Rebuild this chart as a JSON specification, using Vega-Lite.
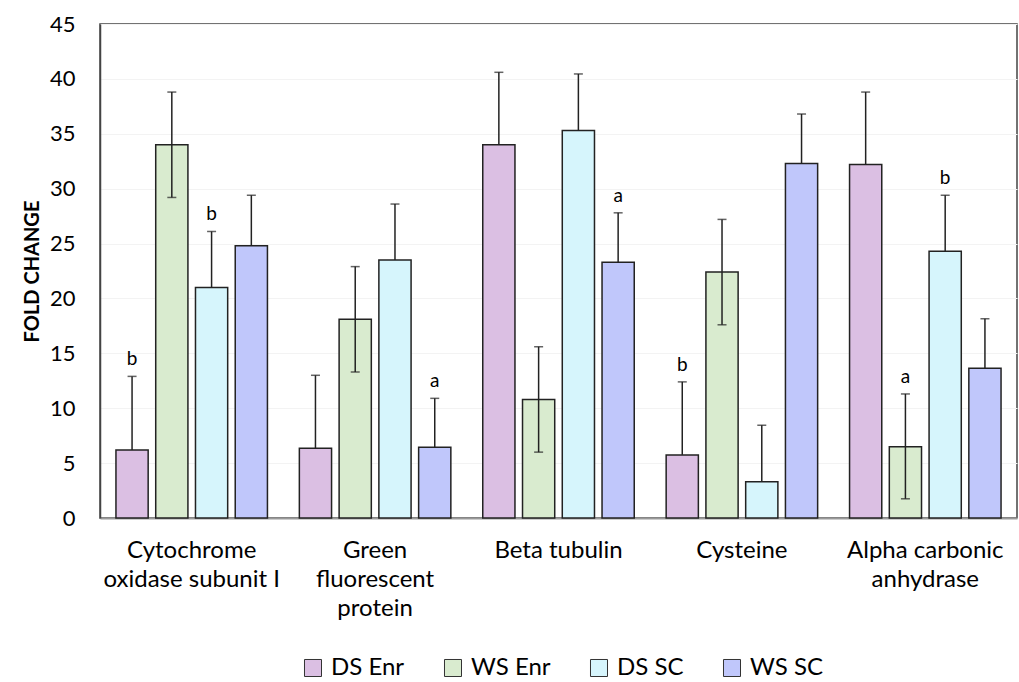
{
  "$schema": "https://vega.github.io/schema/vega-lite/v6.json",
  "width": 917,
  "height": 494,
  "autosize": {"type": "none"},
  "padding": {"left": 100, "top": 24, "right": 2, "bottom": 164},
  "config": {
    "font": "Lato",
    "view": {"stroke": "#444", "strokeWidth": 1.5}
  },
  "data": {
    "values": [
      {"gene": "Cytochrome oxidase subunit I", "group": "DS Enr", "value": 6.2, "hi": 12.9, "lo": null, "letter": "b"},
      {"gene": "Cytochrome oxidase subunit I", "group": "WS Enr", "value": 34.0, "hi": 38.8, "lo": 29.2, "letter": null},
      {"gene": "Cytochrome oxidase subunit I", "group": "DS SC", "value": 21.0, "hi": 26.1, "lo": null, "letter": "b"},
      {"gene": "Cytochrome oxidase subunit I", "group": "WS SC", "value": 24.8, "hi": 29.4, "lo": null, "letter": null},
      {"gene": "Green fluorescent protein", "group": "DS Enr", "value": 6.35, "hi": 13.0, "lo": null, "letter": null},
      {"gene": "Green fluorescent protein", "group": "WS Enr", "value": 18.1, "hi": 22.9, "lo": 13.3, "letter": null},
      {"gene": "Green fluorescent protein", "group": "DS SC", "value": 23.5, "hi": 28.6, "lo": null, "letter": null},
      {"gene": "Green fluorescent protein", "group": "WS SC", "value": 6.45, "hi": 10.9, "lo": null, "letter": "a"},
      {"gene": "Beta tubulin", "group": "DS Enr", "value": 34.0, "hi": 40.6, "lo": null, "letter": null},
      {"gene": "Beta tubulin", "group": "WS Enr", "value": 10.8, "hi": 15.6, "lo": 6.0, "letter": null},
      {"gene": "Beta tubulin", "group": "DS SC", "value": 35.3, "hi": 40.45, "lo": null, "letter": null},
      {"gene": "Beta tubulin", "group": "WS SC", "value": 23.3, "hi": 27.8, "lo": null, "letter": "a"},
      {"gene": "Cysteine", "group": "DS Enr", "value": 5.75, "hi": 12.4, "lo": null, "letter": "b"},
      {"gene": "Cysteine", "group": "WS Enr", "value": 22.4, "hi": 27.2, "lo": 17.6, "letter": null},
      {"gene": "Cysteine", "group": "DS SC", "value": 3.3, "hi": 8.45, "lo": null, "letter": null},
      {"gene": "Cysteine", "group": "WS SC", "value": 32.3, "hi": 36.8, "lo": null, "letter": null},
      {"gene": "Alpha carbonic anhydrase", "group": "DS Enr", "value": 32.2, "hi": 38.8, "lo": null, "letter": null},
      {"gene": "Alpha carbonic anhydrase", "group": "WS Enr", "value": 6.5, "hi": 11.3, "lo": 1.75, "letter": "a"},
      {"gene": "Alpha carbonic anhydrase", "group": "DS SC", "value": 24.3, "hi": 29.4, "lo": null, "letter": "b"},
      {"gene": "Alpha carbonic anhydrase", "group": "WS SC", "value": 13.65, "hi": 18.15, "lo": null, "letter": null}
    ]
  },
  "encoding": {
    "x": {
      "field": "gene",
      "type": "nominal",
      "sort": ["Cytochrome oxidase subunit I", "Green fluorescent protein", "Beta tubulin", "Cysteine", "Alpha carbonic anhydrase"],
      "scale": {"paddingInner": 0.174, "paddingOuter": 0.087},
      "axis": {
        "title": null,
        "labelAngle": 0,
        "labelFontSize": 24,
        "labelColor": "#000",
        "labelPadding": 20,
        "labelLineHeight": 29,
        "labelBaseline": "top",
        "labelLimit": 400,
        "ticks": false,
        "domainColor": "#999",
        "domainWidth": 2,
        "labelExpr": "datum.value == 'Cytochrome oxidase subunit I' ? ['Cytochrome', 'oxidase subunit I'] : datum.value == 'Green fluorescent protein' ? ['Green', 'fluorescent', 'protein'] : datum.value == 'Alpha carbonic anhydrase' ? ['Alpha carbonic', 'anhydrase'] : datum.value"
      }
    },
    "xOffset": {
      "field": "group",
      "type": "nominal",
      "sort": ["DS Enr", "WS Enr", "DS SC", "WS SC"],
      "scale": {"paddingInner": 0.19}
    }
  },
  "layer": [
    {
      "mark": {"type": "bar", "fill": "#000", "opacity": 0.15, "xOffset": 3},
      "encoding": {
        "y": {
          "field": "value",
          "type": "quantitative",
          "title": "FOLD CHANGE",
          "scale": {"domain": [0, 45]},
          "axis": {
            "titleFontSize": 20,
            "titleFontWeight": "bold",
            "titleColor": "#000",
            "titlePadding": 7,
            "values": [0, 5, 10, 15, 20, 25, 30, 35, 40, 45],
            "labelFontSize": 22,
            "labelColor": "#000",
            "labelPadding": 25,
            "ticks": false,
            "domainColor": "#444",
            "domainWidth": 1.5,
            "grid": true,
            "gridColor": "#f3f3f3"
          }
        }
      }
    },
    {
      "mark": {"type": "bar", "stroke": "#222", "strokeWidth": 1.5},
      "encoding": {
        "y": {"field": "value", "type": "quantitative", "title": "FOLD CHANGE"},
        "color": {
          "field": "group",
          "type": "nominal",
          "sort": ["DS Enr", "WS Enr", "DS SC", "WS SC"],
          "scale": {"domain": ["DS Enr", "WS Enr", "DS SC", "WS SC"], "range": ["#dbbfe3", "#d9ebcf", "#d6f5fc", "#c0c7fb"]},
          "legend": {
            "orient": "none",
            "legendX": 201,
            "legendY": 632,
            "direction": "horizontal",
            "title": null,
            "symbolType": "square",
            "symbolSize": 290,
            "symbolStrokeColor": "#333",
            "symbolStrokeWidth": 1,
            "labelFontSize": 24,
            "labelOffset": 6,
            "labelColor": "#000",
            "columnPadding": 36
          }
        }
      }
    },
    {
      "mark": {"type": "rule", "color": "#222", "strokeWidth": 1.5},
      "encoding": {
        "y": {"field": "value", "type": "quantitative", "title": "FOLD CHANGE"},
        "y2": {"field": "hi"}
      }
    },
    {
      "mark": {"type": "rule", "color": "#222", "strokeWidth": 1.5},
      "encoding": {
        "y": {"field": "lo", "type": "quantitative", "title": "FOLD CHANGE"},
        "y2": {"field": "value"}
      }
    },
    {
      "mark": {"type": "tick", "color": "#222", "thickness": 1.5, "size": 9},
      "encoding": {
        "y": {"field": "hi", "type": "quantitative", "title": "FOLD CHANGE"}
      }
    },
    {
      "mark": {"type": "tick", "color": "#222", "thickness": 1.5, "size": 9},
      "encoding": {
        "y": {"field": "lo", "type": "quantitative", "title": "FOLD CHANGE"}
      }
    },
    {
      "transform": [{"filter": "datum.letter != null"}],
      "mark": {"type": "text", "fontSize": 19, "color": "#000", "dy": -11, "baseline": "alphabetic"},
      "encoding": {
        "y": {"field": "hi", "type": "quantitative", "title": "FOLD CHANGE"},
        "text": {"field": "letter"}
      }
    }
  ]
}
